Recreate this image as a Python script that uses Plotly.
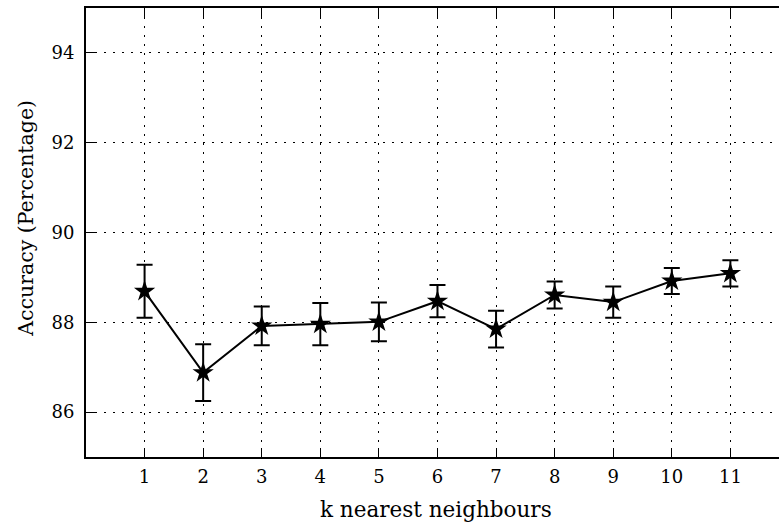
import plotly.graph_objects as go

k_values = [1, 2, 3, 4, 5, 6, 7, 8, 9, 10, 11]
accuracy = [88.69, 86.88, 87.92, 87.96, 88.01, 88.47, 87.85, 88.61, 88.45, 88.92, 89.09]
error = [0.59, 0.63, 0.43, 0.47, 0.43, 0.36, 0.41, 0.30, 0.35, 0.29, 0.29]
y_ticks = [86, 88, 90, 92, 94]
x_title = "k nearest neighbours"
y_title = "Accuracy (Percentage)"

FONT = "DejaVu Serif"
GRID_DASH = "1.5px,7.5px"

fig = go.Figure()
fig.add_trace(go.Scatter(
    x=k_values, y=accuracy,
    mode="lines+markers",
    line=dict(color="black", width=2),
    marker=dict(symbol="star", size=16, color="black"),
    error_y=dict(type="data", array=error, visible=True, color="black", thickness=2, width=8),
    showlegend=False,
))

fig.update_layout(
    width=779, height=525,
    margin=dict(l=86, r=0, t=8, b=68),
    paper_bgcolor="white", plot_bgcolor="white",
    font=dict(family=FONT, size=18, color="black"),
    xaxis=dict(
        range=[0, 11.83], tickvals=k_values, ticktext=[str(k) for k in k_values],
        ticks="inside", ticklen=9, tickwidth=1, tickcolor="black",
        ticklabelstandoff=2,
        showline=True, linecolor="black", linewidth=2, mirror="ticks",
        showgrid=True, gridcolor="black", griddash=GRID_DASH, gridwidth=1,
        zeroline=False,
    ),
    yaxis=dict(
        range=[85, 95], tickvals=y_ticks, ticktext=[str(v) for v in y_ticks],
        ticks="inside", ticklen=9, tickwidth=1, tickcolor="black",
        ticklabelstandoff=6,
        showline=True, linecolor="black", linewidth=2, mirror=False,
        showgrid=True, gridcolor="black", griddash=GRID_DASH, gridwidth=1,
        zeroline=False,
    ),
    annotations=[
        dict(text=x_title, xref="paper", yref="paper", x=0.505, y=-0.116,
             xanchor="center", yanchor="middle", showarrow=False,
             font=dict(family=FONT, size=21.5, color="black")),
        dict(text=y_title, xref="paper", yref="paper", x=-0.087, y=0.532,
             xanchor="center", yanchor="middle", textangle=-90, showarrow=False,
             font=dict(family=FONT, size=20.5, color="black")),
    ],
)

fig.write_html("out.html")
